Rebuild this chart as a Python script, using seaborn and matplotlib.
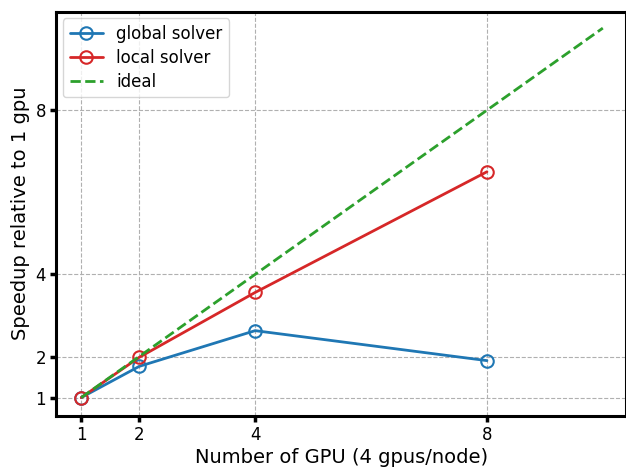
import matplotlib
matplotlib.use("Agg")
import matplotlib.pyplot as plt
import seaborn as sns
import pandas as pd

gpus = [1, 2, 4, 8]
global_speedup = [1.0, 1.76, 2.63, 1.9]
local_speedup = [1.0, 1.98, 3.56, 6.5]
ideal_x = [1, 10]
ideal_y = [1, 10]
ticks = [1, 2, 4, 8]

sns.set_style("ticks", {"axes.edgecolor": "black", "text.color": "black",
                        "axes.labelcolor": "black", "xtick.color": "black",
                        "ytick.color": "black"})
plt.rcParams['font.family'] = ['DejaVu Sans']

fig, ax = plt.subplots(figsize=(6.26, 4.67), dpi=100)

df = pd.DataFrame({"gpu": gpus, "global": global_speedup, "local": local_speedup})
sns.lineplot(data=df, x="gpu", y="global", ax=ax, color="#1f77b4", linewidth=2,
             marker="o", markersize=9, markerfacecolor="none", markeredgecolor="#1f77b4",
             markeredgewidth=1.5, label="global solver")
sns.lineplot(data=df, x="gpu", y="local", ax=ax, color="#d62728", linewidth=2,
             marker="o", markersize=9, markerfacecolor="none", markeredgecolor="#d62728",
             markeredgewidth=1.5, label="local solver")
sns.lineplot(x=ideal_x, y=ideal_y, ax=ax, color="#2ca02c", linewidth=2,
             linestyle="--", label="ideal")

ax.set_xticks(ticks)
ax.set_yticks(ticks)
ax.set_xlim(0.57, 10.4)
ax.set_ylim(0.56, 10.4)
ax.grid(True, linestyle="--", color="#b0b0b0", linewidth=0.8)
ax.set_axisbelow(True)
for s in ax.spines.values():
    s.set_linewidth(2.2)
    s.set_color("black")
ax.tick_params(direction="out", length=4, width=2.5, labelsize=12, colors="black")
ax.set_xlabel("Number of GPU (4 gpus/node)", fontsize=14, labelpad=3, color="black")
ax.set_ylabel("Speedup relative to 1 gpu", fontsize=14, color="black")
leg = ax.legend(loc="upper left", fontsize=12, frameon=True, labelspacing=0.35,
                borderaxespad=0.4)
for t in leg.get_texts():
    t.set_color("black")

fig.subplots_adjust(left=0.09, right=1.0, top=0.975, bottom=0.11)
fig.savefig("out.png", dpi=100)
